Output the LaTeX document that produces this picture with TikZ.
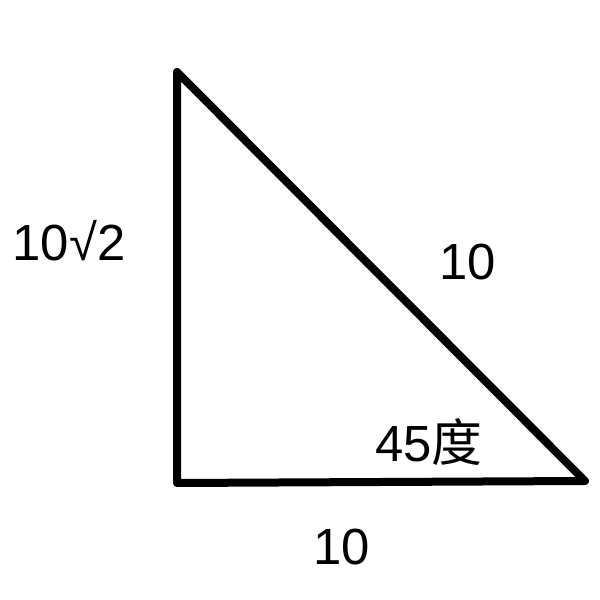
\documentclass[tikz,border=0pt]{standalone}
\usepackage{fontspec}
\setmainfont{Liberation Sans}
\newfontfamily\cjkfont{Noto Sans CJK SC}
\begin{document}
\begin{tikzpicture}[x=1bp,y=1bp,line join=round,
  side/.style={draw=none,font=\fontsize{51}{56}\selectfont,inner sep=0pt}]
\useasboundingbox (0bp,0bp) rectangle (600bp,600bp);
%%
\coordinate (top) at (177bp,528bp);
\coordinate (corner) at (177bp,117bp);
\coordinate (tip) at (585bp,119bp);
\draw [black,line width=8bp] (top) -- (corner) -- (tip) -- cycle;
\node (label_left) at (69bp,359bp) [side] {10√2};
\node (label_hyp) at (468bp,338bp) [side] {10};
\node (label_angle) at (429bp,158bp) [side] {45{\cjkfont 度}};
\node (label_base) at (342bp,53bp) [side] {10};
%
\end{tikzpicture}
\end{document}
